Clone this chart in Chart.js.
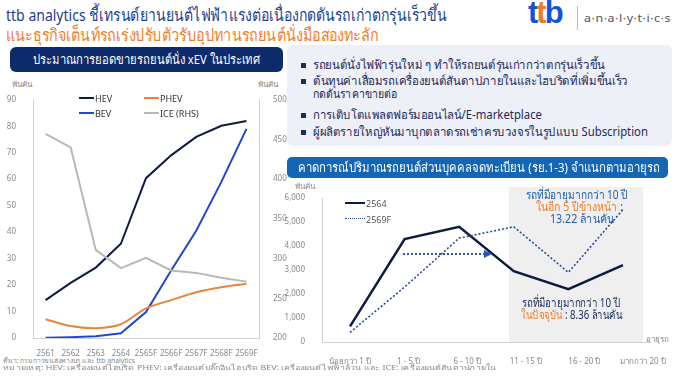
<!DOCTYPE html>
<html><head><meta charset="utf-8">
<script src="https://cdn.jsdelivr.net/npm/chart.js@4.4.1/dist/chart.umd.min.js"></script>
<style>
body{margin:0;width:676px;height:381px;overflow:hidden;background:#fff;position:relative;font-family:"Noto Sans","DejaVu Sans",sans-serif;}
.abs{position:absolute;white-space:nowrap;}
.bul{position:absolute;left:301px;width:5px;height:5px;background:#1d2a5a;}
.bt{position:absolute;left:313px;font-size:12px;color:#1d2a5a;white-space:nowrap;line-height:14px;transform-origin:left center;}
.fit{transform-origin:left center;}
.an{position:absolute;white-space:nowrap;font-size:12px;line-height:13px;transform-origin:left center;}
</style></head><body>
<div class="abs fit" data-w="441" style="left:6px;top:3px;font-size:17px;line-height:24px;color:#1c3f94;">ttb analytics ชี้เทรนด์ยานยนต์ไฟฟ้าแรงต่อเนื่องกดดันรถเก่าตกรุ่นเร็วขึ้น</div>
<div class="abs fit" data-w="372" style="left:6px;top:23px;font-size:17px;line-height:24px;color:#ef7d2a;">แนะธุรกิจเต็นท์รถเร่งปรับตัวรับอุปทานรถยนต์นั่งมือสองทะลัก</div>
<div class="abs" style="left:528px;top:-5px;font-size:31px;font-weight:900;letter-spacing:-2px;font-family:'Liberation Sans',Arial,sans-serif;"><span style="color:#1652d8">t</span><span style="color:#f07c28">t</span><span style="color:#1652d8">b</span></div>
<div class="abs" style="left:577px;top:6px;width:1px;height:24px;background:#bbb;"></div>
<div class="abs fit" data-w="87" style="left:584px;top:10px;font-size:11px;color:#555;letter-spacing:0.5px;">a·n·a·l·y·t·i·c·s</div>

<div class="abs" style="left:10px;top:47px;width:273px;height:25px;background:#0d2a6b;border-radius:6px;"></div>
<div class="abs fit" data-w="227" style="left:33px;top:47px;color:#fff;font-size:13px;line-height:25px;">ประมาณการยอดขายรถยนต์นั่ง xEV ในประเทศ</div>
<div class="abs" style="left:12px;top:78px;font-size:8px;color:#888;">พันคัน</div>
<div class="abs" style="left:258px;top:78px;font-size:8px;color:#888;">พันคัน</div>

<div class="abs" style="left:0;top:86px;width:290px;height:270px;"><canvas id="c1"></canvas></div>

<div class="abs" style="left:79px;top:97px;width:15px;height:2px;background:#0d1b3e;"></div>
<div class="abs" style="left:95px;top:92px;font-size:9px;color:#333;">HEV</div>
<div class="abs" style="left:144px;top:97px;width:15px;height:2px;background:#e8843c;"></div>
<div class="abs" style="left:160px;top:92px;font-size:9px;color:#333;">PHEV</div>
<div class="abs" style="left:79px;top:112px;width:15px;height:2px;background:#2248c8;"></div>
<div class="abs" style="left:95px;top:107px;font-size:9px;color:#333;">BEV</div>
<div class="abs" style="left:144px;top:112px;width:15px;height:2px;background:#b8b8b8;"></div>
<div class="abs" style="left:160px;top:107px;font-size:9px;color:#333;">ICE (RHS)</div>

<div class="abs" style="left:287px;top:45px;width:385px;height:101px;background:#edf0f7;border-radius:6px;"></div>
<div class="bul" style="top:63px"></div><div class="bt" data-w="292" style="top:58px">รถยนต์นั่งไฟฟ้ารุ่นใหม่ ๆ ทำให้รถยนต์รุ่นเก่ากว่าตกรุ่นเร็วขึ้น</div>
<div class="bul" style="top:79px"></div><div class="bt" data-w="315" style="top:74px">ต้นทุนค่าเสื่อมรถเครื่องยนต์สันดาปภายในและไฮบริดที่เพิ่มขึ้นเร็ว</div>
<div class="bt" data-w="84" style="top:87px">กดดันราคาขายต่อ</div>
<div class="bul" style="top:113px"></div><div class="bt" data-w="229" style="top:108px">การเติบโตแพลตฟอร์มออนไลน์/E-marketplace</div>
<div class="bul" style="top:130px"></div><div class="bt" data-w="335" style="top:125px">ผู้ผลิตรายใหญ่หันมาบุกตลาดรถเช่าครบวงจรในรูปแบบ Subscription</div>

<div class="abs" style="left:287px;top:157px;width:381px;height:21px;background:#1565b5;border-radius:5px;"></div>
<div class="abs fit" data-w="362" style="left:298px;top:157px;color:#fff;font-size:13px;line-height:21px;">คาดการณ์ปริมาณรถยนต์ส่วนบุคคลจดทะเบียน (รย.1-3) จำแนกตามอายุรถ</div>
<div class="abs" style="left:295px;top:180px;font-size:8px;color:#888;">พันคัน</div>

<div class="abs" style="left:509px;top:187px;width:134px;height:155px;background:#efefef;"></div>

<div class="abs" style="left:280px;top:180px;width:396px;height:190px;"><canvas id="c2"></canvas></div>

<div class="abs" style="left:345px;top:202px;width:20px;height:2px;background:#0d1b3e;"></div>
<div class="abs" style="left:366px;top:197px;font-size:9px;color:#555;">2564</div>
<div class="abs" style="left:345px;top:218px;width:20px;height:0;border-top:1.5px dotted #2c4a9a;"></div>
<div class="abs" style="left:366px;top:213px;font-size:9px;color:#555;">2569F</div>

<svg class="abs" style="left:400px;top:249px;" width="95" height="10"><line x1="3" y1="5" x2="84" y2="5" stroke="#2a56c8" stroke-width="2" stroke-dasharray="2,2"/><polygon points="84,1 92,5 84,9" fill="#2a56c8"/></svg>

<div class="an" data-w="102" style="left:526px;top:188px;color:#1f5fb0;">รถที่มีอายุมากกว่า 10 ปี</div>
<div class="an" data-w="87" style="left:536px;top:200px;color:#1f5fb0;"><span style="color:#ef7d2a">ในอีก 5 ปีข้างหน้า</span> :</div>
<div class="an" data-w="64" style="left:550px;top:212px;color:#1f5fb0;">13.22 ล้านคัน</div>
<div class="an" data-w="98" style="left:522px;top:296px;color:#1a2a5a;">รถที่มีอายุมากกว่า 10 ปี</div>
<div class="an" data-w="101" style="left:521px;top:308px;color:#1a2a5a;"><span style="color:#ef7d2a">ในปัจจุบัน</span> : 8.36 ล้านคัน</div>
<div class="abs" style="left:646px;top:333px;font-size:8px;color:#888;">อายุรถ</div>

<div class="abs fit" data-w="132" style="left:3px;top:357px;font-size:7px;line-height:8px;color:#888;">ที่มา: กรมการขนส่งทางบก และ ttb analytics</div>
<div class="abs fit" data-w="493" style="left:3px;top:364px;font-size:7px;line-height:8px;color:#888;">หมายเหตุ: HEV: เครื่องยนต์ไฮบริด PHEV: เครื่องยนต์ปลั๊กอินไฮบริด BEV: เครื่องยนต์ไฟฟ้าล้วน และ ICE: เครื่องยนต์สันดาปภายใน</div>

<script>
const years = ['2561','2562','2563','2564','2565F','2566F','2567F','2568F','2569F'];
const hev = [14.3, 20.8, 26.6, 35.6, 60.4, 69, 76, 80.2, 82];
const phev = [7.1, 4.5, 3.7, 5.2, 11.2, 14.3, 17.3, 19.2, 20.5];
const bev = [0.1, 0.3, 0.7, 1.8, 9.8, 25.5, 40.5, 59, 79];
const ice = [457, 440, 311, 288, 301, 285, 282, 276, 271];

const ageLabels = ['น้อยกว่า 1 ปี','1 - 5 ปี','6 - 10 ปี','11 - 15 ปี','16 - 20 ปี','มากกว่า 20 ปี'];
const reg2564 = [650, 4290, 4800, 2950, 2200, 3200];
const reg2569 = [400, 2290, 4330, 4800, 2900, 5520];

document.querySelectorAll('[data-w]').forEach(el=>{
  const w = el.getBoundingClientRect().width;
  if (w > 0) el.style.transform = 'scaleX(' + (parseFloat(el.dataset.w) / w) + ')';
});

Chart.defaults.font.family = '"Noto Sans","DejaVu Sans",sans-serif';
Chart.defaults.animation = false;

const tickStyle = {color:'#888', font:{size:8}};

new Chart(document.getElementById('c1'), {
  type:'line',
  data:{labels:years, datasets:[
    {label:'ICE (RHS)', data:ice, yAxisID:'y1', borderColor:'#b8b8b8', borderWidth:2, pointRadius:0, tension:0},
    {label:'PHEV', data:phev, yAxisID:'y', borderColor:'#e8843c', borderWidth:2, pointRadius:0, tension:0.3},
    {label:'BEV', data:bev, yAxisID:'y', borderColor:'#2248c8', borderWidth:2, pointRadius:0, tension:0},
    {label:'HEV', data:hev, yAxisID:'y', borderColor:'#0d1b3e', borderWidth:2, pointRadius:0, tension:0}
  ]},
  options:{
    responsive:true, maintainAspectRatio:false,
    layout:{padding:{top:12,left:0,right:0,bottom:0}},
    plugins:{legend:{display:false}, tooltip:{enabled:false}},
    scales:{
      x:{offset:true, grid:{display:false}, border:{color:'#d0d0d0'}, ticks:{...tickStyle, padding:3, maxRotation:0, autoSkip:false}, afterFit(s){s.height=18;}},
      y:{min:0, max:90, grid:{display:false}, border:{color:'#d0d0d0'}, ticks:{...tickStyle, stepSize:10, padding:9}, afterFit(s){s.width=33;}},
      y1:{position:'right', min:200, max:500, grid:{display:false}, border:{color:'#d0d0d0'}, ticks:{...tickStyle, stepSize:50, padding:6}, afterFit(s){s.width=31;}}
    }
  }
});

const toPts = arr => arr.map((v,i)=>({x:i, y:v}));
new Chart(document.getElementById('c2'), {
  type:'line',
  data:{datasets:[
    {label:'2569F', data:toPts(reg2569), borderColor:'#2c4a9a', borderWidth:1.6, borderDash:[2,2], pointRadius:0, tension:0},
    {label:'2564', data:toPts(reg2564), borderColor:'#0d1b3e', borderWidth:2.5, pointRadius:0, tension:0}
  ]},
  options:{
    responsive:true, maintainAspectRatio:false,
    layout:{padding:{top:18,left:0,right:26,bottom:0}},
    plugins:{legend:{display:false}, tooltip:{enabled:false}},
    scales:{
      x:{type:'linear', position:'bottom', min:-0.513, max:5.495, grid:{display:false}, border:{color:'#d0d0d0'}, ticks:{display:false}, afterFit(s){s.height=0;}},
      xl:{type:'linear', position:'bottom', min:-0.478, max:5.12, grid:{display:false}, border:{display:false},
          afterBuildTicks(s){s.ticks=ageLabels.map((_,i)=>({value:i}));},
          ticks:{...tickStyle, padding:7, maxRotation:0, autoSkip:false, callback:(v,i)=>ageLabels[i]},
          afterFit(s){s.height=28;}},
      y:{min:0, max:6000, grid:{display:false}, border:{color:'#d0d0d0'},
         ticks:{...tickStyle, stepSize:1000, padding:9, callback:v=>v.toLocaleString('en-US')}, afterFit(s){s.width=42;}}
    }
  }
});
</script>
</body></html>
